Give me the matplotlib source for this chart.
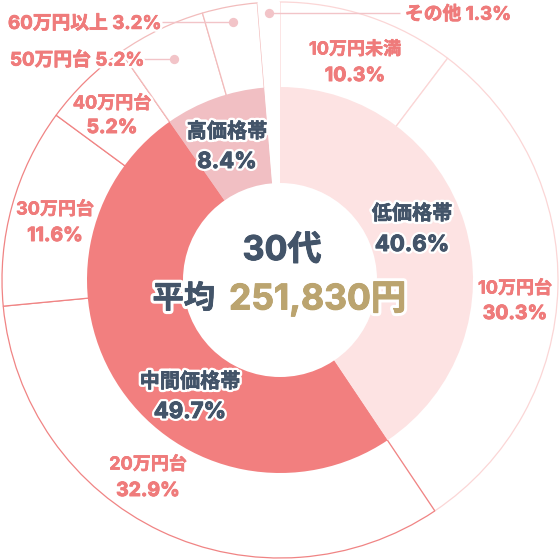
import matplotlib
matplotlib.use('Agg')
import matplotlib.pyplot as plt
import matplotlib.patheffects as pe
from matplotlib.patches import Circle
import numpy as np

plt.rcParams['font.family'] = ['Inter', 'Noto Sans CJK JP', 'DejaVu Sans']

# outer ring: price bands (%)
outer_labels = ['10万円未満', '10万円台', '20万円台', '30万円台', '40万円台', '50万円台', '60万円以上', 'その他']
outer_values = [10.3, 30.3, 32.9, 11.6, 5.2, 5.2, 3.2, 1.3]
outer_group = [0, 0, 1, 1, 1, 2, 2, 3]

# inner ring: price groups (%)
inner_labels = ['低価格帯', '中間価格帯', '高価格帯']
inner_values = [40.6, 49.7, 8.4]
other_value = 1.3

age_title = '30代'
avg_label = '平均'
avg_value = '251,830円'

# colours
group_fill = ['#fde3e3', '#f27f7f', '#f1bfc3']
group_edge = ['#fbd6d6', '#f08484', '#f2bcbc', 'none']
label_red = '#ef7b7b'
navy = '#435469'
gold = '#bba46f'
dot_col = '#f2c4c8'

R_OUT = 278
R_IN = 193
R_HOLE = 97

fig = plt.figure(figsize=(5.6, 5.6), dpi=100)
ax = fig.add_axes([0, 0, 1, 1])


def P(px, py):
    # picture pixel -> data coords (centre of pie at 280,280)
    return px - 280, 280 - py


def fx(color, halo=4, thick=0.7):
    # white halo + slight thickening of the glyphs
    return [pe.withStroke(linewidth=halo, foreground='white'),
            pe.Stroke(linewidth=thick, foreground=color), pe.Normal()]


# outer pie, white slices with coloured outlines
wedges, _ = ax.pie(outer_values, radius=R_OUT, center=(0, 0), startangle=90,
                   counterclock=False, colors=['white'] * len(outer_values),
                   wedgeprops=dict(linewidth=0.9))
for w, g in zip(wedges, outer_group):
    w.set_edgecolor(group_edge[g])

# inner pie
inner_w, _ = ax.pie(inner_values + [other_value], radius=R_IN, center=(0, 0), startangle=90,
                    counterclock=False, colors=group_fill + ['white'],
                    wedgeprops=dict(linewidth=0, edgecolor='none'))
ax.add_patch(Circle((0, 0), R_HOLE, facecolor='white', edgecolor='none', zorder=3))

# outer labels placed inside their slices
outer_pos = {
    '10万円未満': (355, 50, 76),
    '10万円台': (515, 289, 314),
    '20万円台': (148, 465, 491),
    '30万円台': (55, 210, 236),
    '40万円台': (112, 104, 128),
}
for lab, val in zip(outer_labels, outer_values):
    if lab in outer_pos:
        px, py1, py2 = outer_pos[lab]
        ax.text(*P(px, py1), lab, color=label_red, fontsize=13, fontweight='bold',
                ha='center', va='center', path_effects=fx(label_red, thick=0.35), zorder=5)
        ax.text(*P(px, py2), f'{val}%', color=label_red, fontsize=14, fontweight='bold',
                ha='center', va='center', path_effects=fx(label_red), zorder=5)

# call-out labels for the thin slices
cum = np.cumsum([0] + outer_values)
callouts = {
    # label: (dot radius, text x, line end x)
    '50万円台': (245, 10, 143),
    '60万円以上': (262, 8, 162),
    'その他': (267, 405, 400),
}
for i, (lab, val) in enumerate(zip(outer_labels, outer_values)):
    if lab not in callouts:
        continue
    r, tx, lx = callouts[lab]
    mid = np.deg2rad((cum[i] + val / 2) / 100 * 360)
    dx, dy = r * np.sin(mid), r * np.cos(mid)
    ax.plot([dx, lx - 280], [dy, dy], color=dot_col, lw=1.0, zorder=4, solid_capstyle='butt')
    ax.scatter([dx], [dy], s=45, color=dot_col, zorder=4, linewidths=0)
    ax.text(tx - 280, dy - 1.5, f'{lab} {val}%', color=label_red, fontsize=13.5,
            fontweight='bold', ha='left', va='center', path_effects=fx(label_red, thick=0.5),
            zorder=5)

# inner labels
inner_pos = [(412, 214, 245), (190, 382, 412), (227, 132, 162)]
for lab, val, (px, py1, py2) in zip(inner_labels, inner_values, inner_pos):
    ax.text(*P(px, py1), lab, color=navy, fontsize=14.5, fontweight='bold',
            ha='center', va='center', path_effects=fx(navy, thick=0.35), zorder=6)
    ax.text(*P(px, py2), f'{val}%', color=navy, fontsize=16, fontweight='bold',
            ha='center', va='center', path_effects=fx(navy), zorder=6)

# centre text
ax.text(*P(282, 251), age_title, color=navy, fontsize=24.5, fontweight='bold',
        ha='center', va='center', path_effects=fx(navy, 5), zorder=6)
ax.text(*P(215, 299), avg_label, color=navy, fontsize=22.5, fontweight='bold',
        ha='right', va='center', path_effects=fx(navy, 5, 0.5), zorder=6)
ax.text(*P(229, 299), avg_value, color=gold, fontsize=25.5, fontweight='bold',
        ha='left', va='center', path_effects=fx(gold, 5), zorder=6)

ax.set_xlim(-280, 280)
ax.set_ylim(-280, 280)
ax.set_aspect('equal')
ax.axis('off')

fig.savefig('out.png', dpi=100, facecolor='white')
